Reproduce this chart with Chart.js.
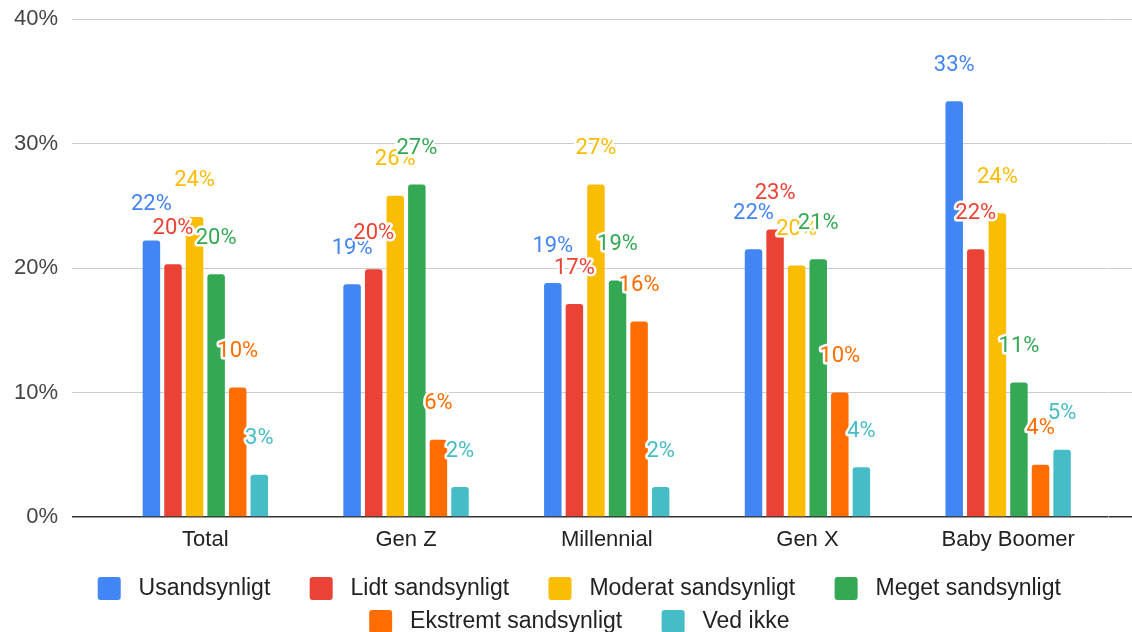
<!DOCTYPE html>
<html lang="da">
<head>
    <meta charset="UTF-8">
    <title>Sandsynlighed efter generation</title>
    <script src="https://cdn.jsdelivr.net/npm/chart.js"></script>
    <style>
        html, body { margin: 0; padding: 0; overflow: hidden; background: #fff; }
        #wrap { width: 1132px; height: 643px; }
    </style>
</head>
<body>
    <div id="wrap">
        <canvas id="myChart"></canvas>
    </div>
<script>
    // kategorier og serier
    const categories = ['Total', 'Gen Z', 'Millennial', 'Gen X', 'Baby Boomer'];
    const seriesNames = ['Usandsynligt', 'Lidt sandsynligt', 'Moderat sandsynligt', 'Meget sandsynligt', 'Ekstremt sandsynligt', 'Ved ikke'];
    const usandsynligt = [22.2, 18.7, 18.8, 21.5, 33.4];
    const lidt = [20.3, 19.9, 17.1, 23.1, 21.5];
    const moderat = [24.1, 25.8, 26.7, 20.2, 24.4];
    const meget = [19.5, 26.7, 19.0, 20.7, 10.8];
    const ekstremt = [10.4, 6.2, 15.7, 10.0, 4.2];
    const vedIkke = [3.4, 2.4, 2.4, 4.0, 5.4];
    const yTicks = [0, 10, 20, 30, 40];

    const colors = ['#4285F4', '#EA4335', '#FBBC04', '#34A853', '#FF6D01', '#46BDC6'];
    const values = [usandsynligt, lidt, moderat, meget, ekstremt, vedIkke];

    const AXIS_FONT = "'Liberation Sans', Arial, sans-serif";
    const PAD_RIGHT = -56; // legenden centreres lidt til højre, y2 kompenserer

    // etiketter over søjlerne med hvid kant
    const valueLabels = {
        id: 'valueLabels',
        afterDatasetsDraw(chart) {
            const ctx = chart.ctx;
            ctx.save();
            ctx.font = '22px Roboto';
            ctx.textAlign = 'center';
            ctx.textBaseline = 'middle';
            ctx.lineJoin = 'round';
            ctx.lineWidth = 5;
            ctx.strokeStyle = '#ffffff';
            chart.data.datasets.forEach((ds, i) => {
                chart.getDatasetMeta(i).data.forEach((bar, j) => {
                    const txt = Math.round(ds.data[j]) + '%';
                    const y = bar.y - 36;
                    ctx.strokeText(txt, bar.x, y);
                    ctx.fillStyle = ds.backgroundColor;
                    ctx.fillText(txt, bar.x, y);
                });
            });
            ctx.restore();
        }
    };

    const gridColor = (c) => (c.tick && c.tick.value === 0) ? '#333333' : '#cccccc';
    const gridWidth = (c) => (c.tick && c.tick.value === 0) ? 1.5 : 1;

    const data = {
        labels: categories,
        datasets: seriesNames.map((name, i) => ({
            label: name,
            data: values[i],
            backgroundColor: colors[i],
            borderRadius: 3,
            categoryPercentage: 0.645,
            barPercentage: 0.81
        }))
    };

    const config = {
        type: 'bar',
        data: data,
        options: {
            responsive: true,
            maintainAspectRatio: false,
            animation: false,
            layout: { padding: { top: 19, left: 0, right: PAD_RIGHT, bottom: 0 } },
            scales: {
                x: {
                    grid: { display: false, drawTicks: false },
                    border: { display: false },
                    ticks: { font: { size: 22, family: AXIS_FONT }, color: '#222222', padding: 10 },
                    afterFit: (s) => { s.height = 50; }
                },
                y: {
                    min: 0,
                    max: 40,
                    afterBuildTicks: (s) => { s.ticks = yTicks.map(v => ({ value: v })); },
                    grid: { color: gridColor, tickColor: gridColor, lineWidth: gridWidth, tickLength: 33 },
                    border: { display: false },
                    ticks: {
                        font: { size: 22, family: AXIS_FONT },
                        color: '#444444',
                        padding: 14,
                        callback: (v) => v + '%'
                    },
                    afterFit: (s) => { s.width = 105; s.paddingTop = 0; }
                },
                y2: {
                    position: 'right',
                    min: 0,
                    max: 40,
                    afterBuildTicks: (s) => { s.ticks = yTicks.map(v => ({ value: v })); },
                    grid: { drawOnChartArea: false, color: gridColor, tickColor: gridColor, lineWidth: gridWidth, tickLength: 24 },
                    border: { display: false },
                    ticks: { padding: 0, callback: () => '' },
                    afterFit: (s) => { s.width = 23.5 - PAD_RIGHT; s.paddingTop = 0; }
                }
            },
            plugins: {
                tooltip: { enabled: false },
                legend: {
                    position: 'bottom',
                    labels: {
                        font: { size: 23, family: AXIS_FONT },
                        color: '#222222',
                        boxWidth: 23,
                        boxHeight: 23,
                        useBorderRadius: true,
                        borderRadius: 3,
                        padding: 10,
                        generateLabels: (chart) => {
                            const items = Chart.defaults.plugins.legend.labels.generateLabels(chart);
                            items.forEach(it => {
                                it.text = ' ' + it.text + '\u2002\u2002 ';
                                it.lineWidth = 0;
                            });
                            return items;
                        }
                    }
                }
            }
        },
        plugins: [valueLabels]
    };

    new Chart(document.querySelector('#myChart'), config);
</script>
</body>
</html>
